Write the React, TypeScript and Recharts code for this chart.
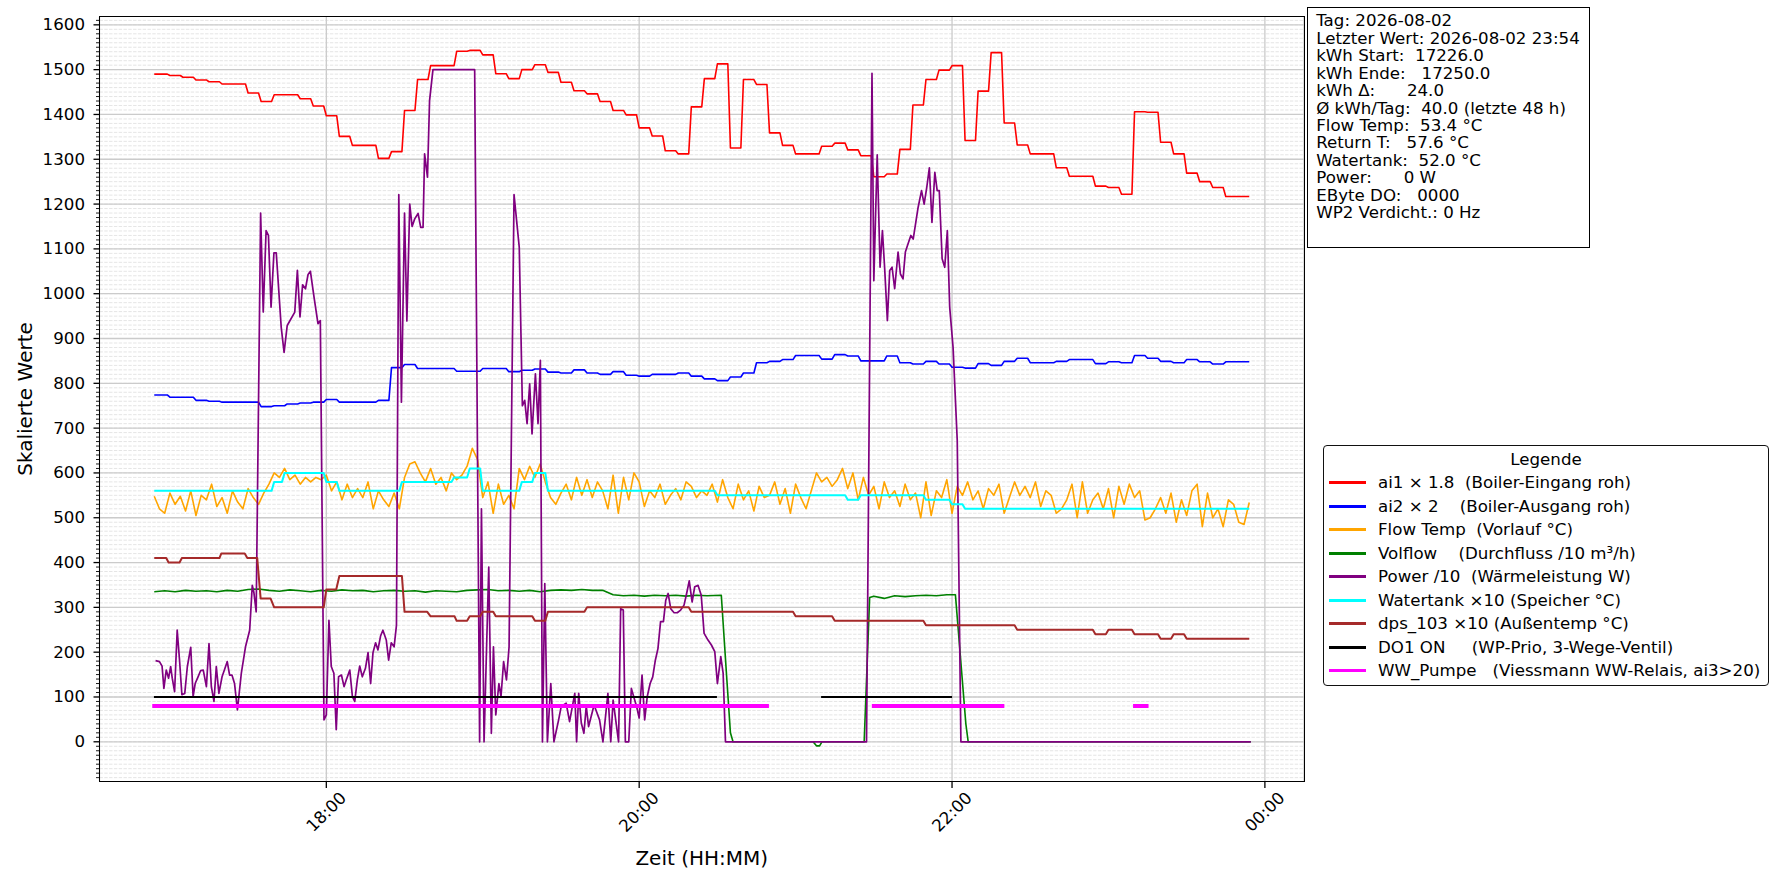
import React from "react";
import { CartesianGrid, Legend, Line, LineChart, XAxis, YAxis } from "recharts";

const W = 1782;
const H = 884;
const FONT = '"DejaVu Sans", "Liberation Sans", sans-serif';
const FS = 16.67;

// time axis in minutes after midnight
const X_DOMAIN = [993, 1455];
const X_TICKS = [1080, 1200, 1320, 1440];
const X_TICK_LABELS = ["18:00", "20:00", "22:00", "00:00"];
const Y_DOMAIN = [-87.5, 1617.5];
const Y_TICKS = [0, 100, 200, 300, 400, 500, 600, 700, 800, 900, 1000, 1100, 1200, 1300, 1400, 1500, 1600];
const Y_MINOR_STEP = 10;

// ai1 / ai2 change in 5 minute blocks (first sample 16:54, blocks from 16:55)
const FIRST_SAMPLE = 1014;
const BLOCK_START = 1015;
const BLOCK_LEN = 5;
const AI1_BLOCKS = [
  1490, 1487, 1483, 1477, 1473, 1468, 1468, 1448, 1429, 1444, 1444, 1435, 1419, 1397, 1351, 1331,
  1331, 1302, 1317, 1409, 1478, 1509, 1509, 1541, 1543, 1533, 1491, 1480, 1500, 1511, 1494,
  1472, 1453, 1446, 1429, 1409, 1399, 1370, 1352, 1319, 1312, 1417, 1480, 1513, 1325, 1478, 1467,
  1359, 1331, 1312, 1312, 1329, 1336, 1321, 1308, 1261, 1267, 1322, 1421, 1478, 1499, 1509, 1342,
  1452, 1538, 1381, 1332, 1312, 1312, 1281, 1262, 1262, 1240, 1237, 1222, 1406, 1405, 1338, 1312,
  1269, 1250, 1237, 1217, 1217,
];
const AI2_BLOCKS = [
  774, 769, 769, 762, 760, 758, 758, 758, 748, 750, 754, 756, 758, 764, 758, 758, 758, 762, 835,
  842, 833, 833, 833, 827, 827, 833, 833, 826, 829, 832, 825,
  823, 830, 823, 820, 826, 818, 816, 820, 820, 823, 816, 810, 806, 814, 823, 846, 849, 853, 862,
  862, 854, 864, 861, 850, 850, 861, 846, 843, 849, 843, 836, 834, 844, 840, 849, 856, 846, 846,
  849, 853, 853, 844, 848, 846, 862, 856, 849, 846, 853, 848, 843, 848, 848,
];

// Flow Temp (x10), sampled every 2 minutes from 16:54
const FLOW_START = 1014;
const FLOW_STEP = 2;
const FLOW_TEMP = [
  548, 520, 510, 555, 530, 548, 515, 560, 505, 550, 540, 575, 525, 545, 510, 560, 535, 520, 565,
  545, 530, 555, 575,
  600, 590, 610, 585,
  595, 575, 590, 580, 590, 585, 595, 560, 580,
  540, 575, 545, 565, 545, 580, 520, 560, 540, 525, 555, 520,
  590, 620, 625, 600, 580,
  610, 575, 590, 560, 600, 585, 595,
  615, 655, 630,
  545, 580, 510, 575, 530, 550, 520,
  610, 585, 615, 590, 620, 580, 545,
  530, 555, 575, 540, 590, 550, 585, 545, 580, 560, 520, 595, 510, 590, 540, 600, 580, 525, 560,
  545, 575, 530, 550, 565, 540, 580, 570, 545, 560, 550, 575,
  535, 585, 545, 520, 575, 540, 560, 515, 570, 545, 550, 580, 530, 565, 510, 575, 545, 520, 560,
  600, 580, 590, 570, 585, 610, 565, 600, 540, 590, 550,
  570, 520, 580, 545, 560, 525, 575, 540, 555, 500, 580, 505, 560, 545, 585, 510, 570, 550,
  580, 540, 560, 520, 565, 550, 575, 510, 545, 580, 550, 570, 545, 580, 525, 560, 550, 510, 520,
  540, 575, 500, 580, 510, 540, 555, 520, 565, 500, 570, 530, 575, 545, 560, 495, 500, 520, 545,
  510, 555, 490, 540, 505, 560, 575, 480, 555, 500, 520, 480, 540, 530, 490, 485, 534,
];

const VOLFLOW: [number, number][] = [
  [1014, 335], [1018, 337], [1022, 335], [1026, 338], [1030, 336], [1034, 337], [1038, 335], [1042, 338],
  [1046, 336], [1050, 340], [1054, 341], [1058, 338], [1062, 336], [1066, 339], [1070, 337], [1074, 335],
  [1078, 338], [1082, 336], [1086, 339], [1090, 337], [1094, 338], [1098, 335], [1102, 337], [1106, 338],
  [1110, 336], [1114, 337], [1118, 334], [1122, 337], [1126, 336], [1130, 335], [1134, 338], [1138, 339],
  [1142, 340], [1146, 337], [1150, 338], [1154, 336], [1158, 338], [1162, 335], [1166, 338], [1170, 339],
  [1174, 338], [1178, 340], [1182, 338], [1186, 338], [1190, 328], [1194, 326], [1198, 327], [1202, 325],
  [1206, 327], [1210, 326], [1214, 327], [1218, 325], [1222, 327], [1226, 326], [1231.5, 327], [1233.5, 150],
  [1235, 20], [1236, 0], [1266.7, 0], [1268, -9], [1269.2, -9], [1270.1, 0], [1286.3, 0], [1288.4, 322],
  [1290, 325], [1294, 320], [1298, 326], [1302, 324], [1306, 326], [1310, 327], [1314, 326], [1318, 328],
  [1321.3, 328], [1325.3, 40], [1326.2, 0], [1434.6, 0],
];

const POWER: [number, number][] = [
  [1014.5, 181], [1016, 179], [1017, 169], [1017.7, 119], [1018.6, 160], [1019.5, 142], [1020.3, 168],
  [1020.9, 142], [1021.8, 112], [1022.8, 249], [1023.7, 182], [1024.6, 105], [1025.7, 108], [1026.7, 168],
  [1028, 211], [1028.9, 101], [1029.7, 130], [1030.8, 145], [1031.8, 159], [1032.8, 160], [1034, 123],
  [1035, 219], [1035.9, 123], [1036.9, 90], [1037.8, 168], [1038.8, 108], [1040, 145], [1041, 162],
  [1042, 179], [1042.9, 149], [1043.8, 149], [1044.8, 130], [1045.9, 71], [1047.4, 153], [1049, 212],
  [1050.6, 249], [1051.6, 349], [1052.2, 334], [1053.1, 290],
  [1054.8, 1180], [1055.8, 959], [1056.9, 1141], [1057.8, 1130], [1058.8, 970], [1059.9, 1091],
  [1060.8, 1091], [1062.7, 925], [1063.8, 869], [1065, 929], [1067.9, 959], [1068.9, 1052], [1069.9, 948],
  [1070.9, 1020], [1072, 1011], [1073, 1043], [1073.9, 1050], [1075.3, 992], [1076.8, 933], [1077.7, 940],
  [1079.1, 49], [1080, 60], [1081, 271], [1081.9, 168], [1082.9, 153], [1083.8, 27], [1084.7, 145],
  [1085.8, 149], [1086.8, 123], [1087.7, 139], [1089, 160], [1090, 101], [1090.9, 90], [1091.9, 138],
  [1092.8, 169], [1093.8, 145], [1095, 164], [1096, 199], [1097, 130], [1097.9, 199], [1098.9, 221],
  [1099.8, 205], [1100.8, 236], [1101.7, 249], [1103, 227], [1103.9, 182], [1104.9, 221], [1106, 212],
  [1106.9, 260],
  [1107.8, 1221], [1108.8, 758], [1110, 1180], [1110.9, 939], [1112, 1200], [1112.9, 1150], [1113.9, 1167],
  [1115.2, 1179], [1116.2, 1148], [1117.1, 1148], [1117.7, 1312], [1118.8, 1260], [1119.6, 1431],
  [1120.9, 1500], [1136.9, 1500],
  [1138.8, 0], [1139.5, 520], [1140.5, 0], [1142.3, 390], [1143.3, 19], [1144.1, 212], [1145, 60],
  [1146.2, 130], [1147, 101], [1148, 179], [1149.1, 138], [1150.1, 212],
  [1152, 1221], [1154, 1104], [1155.2, 750], [1156.1, 762], [1157, 710], [1158, 799], [1158.9, 687],
  [1160.2, 821], [1161.2, 710], [1162.1, 851],
  [1162.9, 0], [1163.8, 353], [1164.8, 0], [1166.1, 130], [1167.3, 0], [1169.1, 49], [1170.1, 79],
  [1172, 86], [1173.3, 45], [1175.3, 108], [1176, 0], [1176.8, 108], [1177.8, 42], [1178.8, 19],
  [1179.7, 79], [1180.6, 34], [1182.7, 82], [1184.8, 49], [1186.1, 0], [1188, 108], [1189.1, 0],
  [1190, 93], [1192.1, 0], [1192.9, 297], [1193.9, 294], [1194.7, 0], [1196, 0], [1197, 119], [1199, 79],
  [1200, 53], [1201.1, 149], [1202.1, 49], [1203.1, 101], [1204.2, 130], [1205.2, 145], [1206.2, 182],
  [1207.2, 208], [1208.2, 268], [1209.3, 268], [1210.2, 316], [1211.1, 331], [1212.1, 297], [1213.4, 288],
  [1214.6, 288], [1215.9, 294], [1217.2, 305], [1218.2, 331], [1219.2, 359], [1220.3, 312], [1221.3, 346],
  [1222.6, 349], [1223.8, 327], [1224.9, 242], [1226.4, 227], [1227.7, 216], [1229, 201], [1230, 130],
  [1231.3, 190], [1232.2, 153], [1233.1, 0],
  [1287.2, 0], [1289.3, 1492], [1290, 1029], [1291.3, 1310], [1292.4, 1059], [1293.3, 1141], [1294.2, 1052],
  [1295.2, 940], [1296.1, 1052], [1297, 1059], [1298, 1011], [1299.3, 1093], [1300.2, 1044], [1301.2, 1033],
  [1302.1, 1093], [1303.1, 1111], [1304.2, 1130], [1305.1, 1122], [1306.1, 1159], [1307, 1193],
  [1308.3, 1230], [1309.3, 1200], [1310.3, 1237], [1311.3, 1281], [1312.3, 1159], [1313.4, 1271],
  [1314.3, 1230], [1315.1, 1230], [1316.2, 1078], [1317.2, 1059], [1318.2, 1141], [1319.1, 970],
  [1320.4, 880], [1322, 672], [1323.4, 0], [1434.6, 0],
];

const WATERTANK: [number, number][] = [
  [1014, 560], [1059, 560], [1060, 580], [1063, 580], [1064, 600], [1079, 600], [1080, 580], [1084, 580],
  [1085, 560], [1108, 560], [1109, 580], [1128, 580], [1129, 590], [1134, 590], [1135, 610], [1139, 610],
  [1140, 560], [1154, 560], [1155, 580], [1159, 580], [1160, 600], [1164, 600], [1165, 560], [1229, 560],
  [1230, 550], [1279, 550], [1280, 540], [1284, 540], [1285, 550], [1309, 550], [1310, 540], [1319, 540],
  [1320, 530], [1324, 530], [1325, 520], [1434, 520],
];

const DPS_103: [number, number][] = [
  [1014, 410], [1018.6, 410], [1019.5, 400], [1023.7, 400], [1024.6, 410], [1039, 410], [1039.7, 420],
  [1048.7, 420], [1049.7, 410], [1053.5, 410], [1054.8, 320], [1058.6, 320], [1060, 300], [1079, 300],
  [1080, 340], [1083.8, 340], [1085, 370], [1109, 370], [1110, 290], [1118.7, 290], [1120, 280],
  [1129.2, 280], [1130, 270], [1134, 270], [1135, 280], [1139, 280], [1140, 290], [1144, 290], [1145, 280],
  [1159, 280], [1160, 270], [1164, 270], [1165, 290], [1179, 290], [1180, 300], [1219, 300], [1220, 290],
  [1259, 290], [1260, 280], [1274, 280], [1275, 270], [1309, 270], [1310, 260], [1344, 260], [1345, 250],
  [1374, 250], [1375, 240], [1379, 240], [1380, 250], [1389, 250], [1390, 240], [1399, 240], [1400, 230],
  [1404, 230], [1405, 240], [1409, 240], [1410, 230], [1434, 230],
];

const DO1_LEVEL = 100;
const DO1_ON: [number, number][] = [[1014.3, 1229.4], [1270.2, 1319.6]];
const WW_LEVEL = 80;
const WW_ON: [number, number][] = [[1014, 1249], [1290, 1339.3], [1390.2, 1394.6]];

const SERIES_NAMES = [
  "ai1 × 1.8  (Boiler-Eingang roh)",
  "ai2 × 2    (Boiler-Ausgang roh)",
  "Flow Temp  (Vorlauf °C)",
  "Volflow    (Durchfluss /10 m³/h)",
  "Power /10  (Wärmeleistung W)",
  "Watertank ×10 (Speicher °C)",
  "dps_103 ×10 (Außentemp °C)",
  "DO1 ON     (WP-Prio, 3-Wege-Ventil)",
  "WW_Pumpe   (Viessmann WW-Relais, ai3>20)",
];
const SERIES_COLORS = ["#ff0000", "#0000ff", "#ffa500", "#008000", "#800080", "#00ffff", "#a52a2a", "#000000", "#ff00ff"];
const SERIES_WIDTHS = [1.6, 1.6, 1.6, 1.6, 1.7, 2, 2, 2.2, 4];

const INFO_LINES = [
  "Tag: 2026-08-02",
  "Letzter Wert: 2026-08-02 23:54",
  "kWh Start:  17226.0",
  "kWh Ende:   17250.0",
  "kWh Δ:      24.0",
  "Ø kWh/Tag:  40.0 (letzte 48 h)",
  "Flow Temp:  53.4 °C",
  "Return T:   57.6 °C",
  "Watertank:  52.0 °C",
  "Power:      0 W",
  "EByte DO:   0000",
  "WP2 Verdicht.: 0 Hz",
];

type Pt = { t: number; v: number | null };

const pairs = (list: [number, number][]): Pt[] => list.map(([t, v]) => ({ t, v }));

function blocks(values: number[]): Pt[] {
  const pts: Pt[] = [{ t: FIRST_SAMPLE, v: values[0] }];
  values.forEach((v, i) => {
    const t0 = BLOCK_START + i * BLOCK_LEN;
    pts.push({ t: t0, v }, { t: t0 + BLOCK_LEN - 1, v });
  });
  return pts;
}

function sampled(values: number[], start: number, step: number): Pt[] {
  return values.map((v, i) => ({ t: start + i * step, v }));
}

function segments(list: [number, number][], level: number): Pt[] {
  const pts: Pt[] = [];
  list.forEach(([a, b], i) => {
    if (i > 0) pts.push({ t: (list[i - 1][1] + a) / 2, v: null });
    pts.push({ t: a, v: level }, { t: b, v: level });
  });
  return pts;
}

const SERIES_DATA: Pt[][] = [
  blocks(AI1_BLOCKS),
  blocks(AI2_BLOCKS),
  sampled(FLOW_TEMP, FLOW_START, FLOW_STEP),
  pairs(VOLFLOW),
  pairs(POWER),
  pairs(WATERTANK),
  pairs(DPS_103),
  segments(DO1_ON, DO1_LEVEL),
  segments(WW_ON, WW_LEVEL),
];

// minor ticks every 10 (majors included)
const ALL_Y_TICKS: number[] = [];
for (let v = -80; v <= 1610; v += Y_MINOR_STEP) ALL_Y_TICKS.push(v);

function ValueTick(props: any) {
  const { x, y, payload } = props;
  const major = Y_TICKS.includes(payload.value);
  return (
    <g>
      <line x1={x - (major ? 6 : 3.5)} x2={x} y1={y} y2={y} stroke="#000" strokeWidth={major ? 1.3 : 0.9} />
      {major && (
        <text x={x - 14.5} y={y} textAnchor="end" dominantBaseline="central" fontFamily={FONT} fontSize={FS} fill="#000">
          {payload.value}
        </text>
      )}
    </g>
  );
}

function TimeTick(props: any) {
  const { x, y, payload } = props;
  const label = X_TICK_LABELS[X_TICKS.indexOf(payload.value)] ?? "";
  const cy = y + 24;
  return (
    <text x={x} y={cy} transform={`rotate(-45, ${x}, ${cy})`} textAnchor="middle" dominantBaseline="central"
      fontFamily={FONT} fontSize={FS} fill="#000">
      {label}
    </text>
  );
}

function LegendBox() {
  return (
    <div style={{
      width: 446, height: 241, boxSizing: "border-box", border: "1.3px solid #111", borderRadius: 4,
      background: "#fff", fontFamily: FONT, fontSize: FS, color: "#000", position: "relative",
    }}>
      <div style={{ position: "absolute", left: 0, right: 0, top: 3.5, textAlign: "center", lineHeight: "20px" }}>Legende</div>
      {SERIES_NAMES.map((name, i) => (
        <div key={name} style={{ position: "absolute", left: 5, top: 26 + i * 23.5, height: 21, display: "flex", alignItems: "center" }}>
          <span style={{ display: "inline-block", width: 37, height: 3, background: SERIES_COLORS[i] }} />
          <span style={{ marginLeft: 12, whiteSpace: "pre", lineHeight: "21px" }}>{name}</span>
        </div>
      ))}
    </div>
  );
}

export default function App() {
  return (
    <div style={{ position: "absolute", left: 0, top: 0, width: W, height: H, background: "#fff", fontFamily: FONT }}>
      <LineChart width={W} height={H} margin={{ top: 17, right: 478, bottom: 0, left: 0 }}>
        <YAxis yAxisId="left" type="number" domain={Y_DOMAIN} ticks={ALL_Y_TICKS} interval={0} allowDataOverflow
          width={99.5} tickSize={0} tickMargin={0} axisLine={false} tickLine={false} tick={<ValueTick />}
          label={{
            content: (p: any) => (
              <text x={25} y={p.viewBox.y + p.viewBox.height / 2} transform={`rotate(-90, 25, ${p.viewBox.y + p.viewBox.height / 2})`}
                textAnchor="middle" dominantBaseline="central" fontFamily={FONT} fontSize={20} fill="#000">
                Skalierte Werte
              </text>
            ),
          }} />
        <XAxis xAxisId="x" dataKey="t" type="number" domain={X_DOMAIN} ticks={X_TICKS} interval={0} allowDataOverflow
          height={103} tickSize={7} tickMargin={0} axisLine={false}
          tickLine={{ stroke: "#000", strokeWidth: 1.3 }} tick={<TimeTick />}
          label={{
            content: (p: any) => (
              <text x={p.viewBox.x + p.viewBox.width / 2} y={p.viewBox.y + 84} textAnchor="middle"
                fontFamily={FONT} fontSize={20} fill="#000">
                Zeit (HH:MM)
              </text>
            ),
          }} />
        <CartesianGrid xAxisId="x" yAxisId="left" vertical={false} horizontalValues={ALL_Y_TICKS}
          stroke="#dcdcdc" strokeWidth={0.75} strokeDasharray="3.4 1.4" />
        <CartesianGrid xAxisId="x" yAxisId="left" horizontalValues={Y_TICKS} stroke="#cbcbcb" strokeWidth={1.3} />
        {SERIES_DATA.map((data, i) => (
          <Line key={SERIES_NAMES[i]} name={SERIES_NAMES[i]} data={data} dataKey="v" xAxisId="x" yAxisId="left"
            type="linear" stroke={SERIES_COLORS[i]} strokeWidth={SERIES_WIDTHS[i]} dot={false} activeDot={false}
            strokeLinecap={i >= 7 ? "square" : "butt"} strokeLinejoin="round"
            connectNulls={false} isAnimationActive={false} />
        ))}
        <Legend layout="vertical" align="center" verticalAlign="middle" content={() => <LegendBox />}
          wrapperStyle={{ position: "absolute", left: 1323, top: 445, width: 446, height: 241 }} />
      </LineChart>

      {/* axes frame */}
      <div style={{ position: "absolute", left: 98.75, top: 16.25, width: 1206, height: 765.5, boxSizing: "border-box",
        border: "1.5px solid #000", pointerEvents: "none" }} />

      {/* info box */}
      <div style={{ position: "absolute", left: 1307, top: 6.5, width: 282.5, height: 241, boxSizing: "border-box",
        border: "1.5px solid #000", background: "#fff", padding: "4.8px 0 0 8.2px", fontSize: FS, lineHeight: "17.45px",
        color: "#000", whiteSpace: "pre", fontFamily: FONT }}>
        {INFO_LINES.map((line) => (
          <div key={line}>{line}</div>
        ))}
      </div>
    </div>
  );
}
